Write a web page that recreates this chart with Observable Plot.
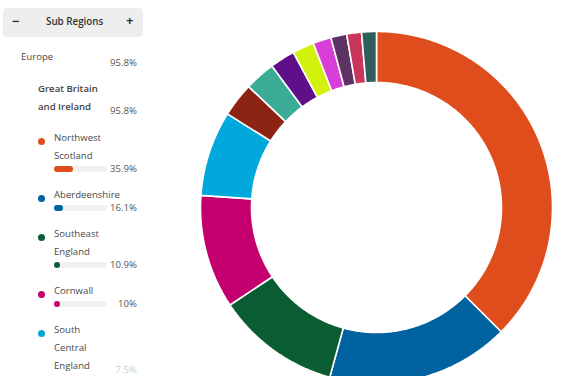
<!DOCTYPE html>
<html>
<head>
<meta charset="utf-8">
<script src="https://cdn.jsdelivr.net/npm/d3@7"></script>
<script src="https://cdn.jsdelivr.net/npm/@observablehq/plot@0.6"></script>
<style>
  html, body { margin: 0; padding: 0; background: #fff; overflow: hidden; }
  body { width: 561px; height: 376px; position: relative; font-family: "Open Sans", sans-serif; }
  .t { position: absolute; font-size: 9.6px; color: #4a4a4a; white-space: nowrap; line-height: 1; }
  .p { position: absolute; font-size: 9.6px; color: #555; white-space: nowrap; line-height: 1; text-align: right; }
  #hdr { position: absolute; left: 3px; top: 8px; width: 140px; height: 29px; background: #eeeeef; border-radius: 4px; }
  .dot { position: absolute; width: 7px; height: 7px; border-radius: 50%; }
  .track { position: absolute; height: 6px; border-radius: 3px; background: #f1f1f2; }
  .fillbar { position: absolute; height: 6px; border-radius: 3px; }
  #chart { position: absolute; left: 200px; top: 31px; }
</style>
</head>
<body>
<div id="hdr"></div>
<div id="panel"></div>
<div id="chart"></div>
<script>
// ---- data ----
const regionNames = ["Northwest Scotland", "Aberdeenshire", "Southeast England", "Cornwall", "South Central England",
  "Region 6", "Region 7", "Region 8", "Region 9", "Region 10", "Region 11", "Region 12", "Region 13"];
const regionValues = [35.9, 16.1, 10.9, 10, 7.5, 3.0, 2.7, 2.2, 1.9, 1.6, 1.4, 1.3, 1.3];
const regionColors = ["#e04d1c", "#00629e", "#0a5c32", "#c4006f", "#00a8dc", "#8c2414", "#3aab95", "#5f0f88",
  "#d2f20d", "#d83fd6", "#5b3262", "#c9365c", "#2e5f5a"];
const listLines = [["Northwest", "Scotland"], ["Aberdeenshire"], ["Southeast", "England"], ["Cornwall"], ["South", "Central", "England"]];
const listLabels = ["35.9%", "16.1%", "10.9%", "10%", "7.5%"];
const headerTitle = "Sub Regions";
const continentName = "Europe", continentPct = "95.8%";
const groupLines = ["Great Britain", "and Ireland"], groupPct = "95.8%";

// ---- left panel ----
const panel = document.getElementById("panel");
function add(cls, text, css) {
  const d = document.createElement("div");
  d.className = cls; if (text != null) d.textContent = text;
  Object.assign(d.style, css); panel.appendChild(d); return d;
}
// header
add("t", "−", {left: "12px", top: "15px", fontSize: "13px", fontWeight: "700", color: "#333"});
add("t", headerTitle, {left: "46px", top: "17px", fontSize: "9.8px", fontWeight: "600", color: "#333"});
add("t", "+", {left: "126px", top: "14px", fontSize: "13px", fontWeight: "700", color: "#333"});
const asc = 8.3;
add("t", continentName, {left: "21px", top: (60 - asc) + "px"});
add("p", continentPct, {right: (561 - 137) + "px", top: (66 - asc) + "px"});
groupLines.forEach((s, i) => add("t", s, {left: "38px", top: (92 + 18 * i - asc) + "px", fontWeight: "600", color: "#444"}));
add("p", groupPct, {right: (561 - 137) + "px", top: (114 - asc) + "px"});

const trackW = 53;
let base = 141;
listLines.forEach((lines, i) => {
  const col = regionColors[i];
  add("dot", null, {left: "37.5px", top: (base + 0.5 - 3.5) + "px", background: col});
  lines.forEach((s, j) => add("t", s, {left: "54px", top: (base + 18 * j - asc) + "px"}));
  const barC = base + 18 * (lines.length - 1) + 9.5;
  add("track", null, {left: "54px", top: (barC - 3) + "px", width: trackW + "px"});
  const w = Math.max(6, trackW * regionValues[i] / 100);
  add("fillbar", null, {left: "54px", top: (barC - 3) + "px", width: w + "px", background: col});
  const pTop = Math.min(barC + 4 - asc, 376 - 11);
  add("p", listLabels[i], {right: (561 - 137) + "px", top: pTop + "px", opacity: i === 4 ? 0.3 : 1});
  base = barC + 29.5;
});

// ---- donut ----
const total = d3.sum(regionValues);
const inner = 125 / 176;
const pts = [];
let acc = 0;
regionValues.forEach((v, i) => {
  const a0 = acc / total * 2 * Math.PI;
  acc += v;
  const a1 = acc / total * 2 * Math.PI;
  const n = Math.max(4, Math.ceil((a1 - a0) / 0.01));
  const name = regionNames[i];
  for (let k = 0; k <= n; k++) {
    const a = a0 + (a1 - a0) * k / n;
    pts.push({name, x: Math.sin(a), y: Math.cos(a)});
  }
  for (let k = n; k >= 0; k--) {
    const a = a0 + (a1 - a0) * k / n;
    pts.push({name, x: inner * Math.sin(a), y: inner * Math.cos(a)});
  }
});

const chart = Plot.plot({
  width: 352, height: 352, margin: 0,
  x: {domain: [-1, 1], axis: null},
  y: {domain: [-1, 1], axis: null},
  color: {domain: regionNames, range: regionColors},
  marks: [
    Plot.line(pts, {x: "x", y: "y", z: "name", fill: "name", stroke: "white", strokeWidth: 1.6, strokeLinejoin: "miter", curve: "linear-closed"})
  ]
});
document.getElementById("chart").appendChild(chart);
</script>
</body>
</html>
